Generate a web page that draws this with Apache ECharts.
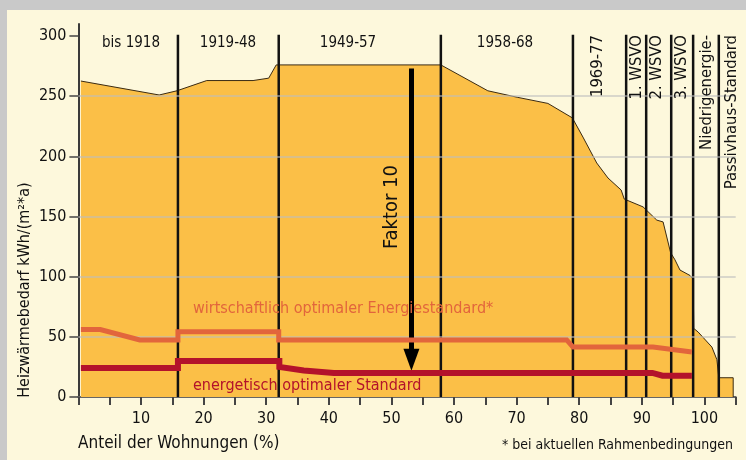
<!DOCTYPE html>
<html>
<head>
<meta charset="utf-8">
<script src="https://cdn.jsdelivr.net/npm/echarts@6/dist/echarts.min.js"></script>
<style>
  html, body { margin: 0; padding: 0; background: #c9c9c9; }
  #chart { width: 746px; height: 460px; }
</style>
</head>
<body>
<div id="chart"></div>
<script>
/* 字体 */
var FONT = "'Liberation Sans Narrow', 'DejaVu Sans Condensed', 'Noto Sans', sans-serif";

/* 数据 */
var yTicks = [0, 50, 100, 150, 200, 250, 300];
var gridValues = [50, 100, 150, 200, 250];
var xTicks = [0, 5, 10, 15, 20, 25, 30, 35, 40, 45, 50, 55, 60, 65, 70, 75, 80, 85, 90, 95, 100, 105];
var xLabels = [10, 20, 30, 40, 50, 60, 70, 80, 90, 100];

var periodNames = ['bis 1918', '1919-48', '1949-57', '1958-68'];
var standardNames = ['1969-77', '1. WSVO', '2. WSVO', '3. WSVO', 'Niedrigenergie-', 'Passivhaus-Standard'];
var dividers = [15.9, 32.0, 57.9, 79.0, 87.5, 90.7, 94.7, 98.2, 102.3];

// Heizwärmebedarf des Bestands (Fläche)
var demand = [
    [0.4, 262.6], [12.9, 251], [15.75, 254.5], [20.5, 263], [27.9, 263], [30.4, 265],
    [31.6, 276], [57.9, 276], [65.4, 254.5], [70.2, 249], [75.0, 244], [78.9, 232],
    [80.6, 216], [82.8, 194.5], [84.6, 182], [86.7, 172], [87.2, 164.5], [90.2, 158],
    [92.4, 147], [93.4, 145.5], [94.6, 120], [95.3, 114], [96.1, 105.5], [97.7, 101],
    [98.2, 98], [98.3, 57], [99.0, 54], [101.2, 41.5], [102.0, 31], [102.3, 16],
    [104.6, 16], [104.6, 0]
];
// wirtschaftlich optimaler Energiestandard
var econOptimum = [
    [0.4, 56], [3.5, 56], [9.8, 47.4], [15.9, 47.4], [15.9, 54.3], [32.0, 54.3],
    [32.0, 47.4], [78.0, 47.4], [79.0, 41.5], [91.8, 41.5], [98.0, 37.4]
];
// energetisch optimaler Standard
var energyOptimum = [
    [0.4, 24.1], [15.9, 24.1], [15.9, 30], [32.1, 30], [32.1, 25], [36, 22],
    [40.8, 20], [91.7, 20], [93.3, 17.7], [98.0, 17.7]
];
// Faktor 10 Pfeil
var factorArrow = [[53.2, 273], [53.2, 31]];

var chart = echarts.init(document.getElementById('chart'));

function txt(text, x, y, size, opt) {
    opt = opt || {};
    return {
        type: 'text',
        x: x, y: y,
        rotation: opt.rotation || 0,
        z: 100,
        style: {
            text: text,
            fill: opt.color || '#111',
            font: (opt.weight || 'normal') + ' ' + size + 'px ' + FONT,
            align: opt.align || 'center',
            verticalAlign: 'middle',
            textAlign: opt.align || 'center',
            textVerticalAlign: 'middle'
        }
    };
}

var series = [{
    name: 'Bestand',
    type: 'line',
    data: demand,
    symbol: 'none',
    z: 2,
    lineStyle: { color: '#3a2a12', width: 1 },
    areaStyle: { color: '#fbbf47', opacity: 1 }
}, {
    name: 'grid',
    type: 'line',
    data: [],
    z: 3,
    markLine: {
        silent: true,
        symbol: 'none',
        label: { show: false },
        lineStyle: { color: 'rgba(190,190,190,0.75)', width: 1.5, type: 'solid' },
        data: gridValues.map(function (v) { return { yAxis: v }; })
    }
}];

dividers.forEach(function (d) {
    series.push({
        type: 'line',
        data: [[d, 0], [d, 301]],
        symbol: 'none',
        z: 4,
        lineStyle: { color: '#111', width: 2.5 }
    });
});

series.push({
    name: 'wirtschaftlich',
    type: 'line',
    data: econOptimum,
    symbol: 'none',
    z: 5,
    lineStyle: { color: '#e2653c', width: 5, cap: 'butt', join: 'miter' }
}, {
    name: 'energetisch',
    type: 'line',
    data: energyOptimum,
    symbol: 'none',
    z: 5,
    lineStyle: { color: '#b3122b', width: 6, cap: 'butt', join: 'miter' }
}, {
    name: 'Faktor 10',
    type: 'line',
    data: [],
    z: 6,
    markLine: {
        silent: true,
        symbol: ['none', 'triangle'],
        symbolSize: [16, 22],
        label: { show: false },
        lineStyle: { color: '#000', width: 5, type: 'solid' },
        data: [[{ coord: factorArrow[0] }, { coord: factorArrow[1] }]]
    }
});

var graphic = [{
    type: 'rect',
    z: -100,
    shape: { x: 7, y: 10, width: 746, height: 460 },
    style: { fill: '#fdf8dc' }
}];

// Epochen oben
var periodPos = [[131, 43], [228, 43], [348, 43], [505, 43]];
periodNames.forEach(function (n, i) {
    graphic.push(txt(n, periodPos[i][0], periodPos[i][1], 15));
});
// senkrechte Beschriftungen
var standardX = [598, 637, 657, 682, 707, 732];
standardNames.forEach(function (n, i) {
    graphic.push(txt(n, standardX[i], 35, 16.5, { rotation: Math.PI / 2, align: 'right' }));
});

graphic.push(
    txt('Faktor 10', 392, 207, 20, { rotation: Math.PI / 2 }),
    txt('wirtschaftlich optimaler Energiestandard*', 193, 309, 16, { align: 'left', color: '#e2653c' }),
    txt('energetisch optimaler Standard', 193, 386, 16, { align: 'left', color: '#b3122b' }),
    txt('Heizwärmebedarf kWh/(m²*a)', 25, 290, 16, { rotation: Math.PI / 2 }),
    txt('Anteil der Wohnungen (%)', 78, 444, 17, { align: 'left' }),
    txt('* bei aktuellen Rahmenbedingungen', 733, 445, 14, { align: 'right' })
);

chart.setOption({
    animation: false,
    backgroundColor: '#c9c9c9',
    grid: { left: 78.4, right: 10.3, top: 24, bottom: 63, containLabel: false, outerBoundsMode: 'none' },
    xAxis: {
        type: 'value',
        min: 0,
        max: 105,
        interval: 5,
        axisLine: { show: true, onZero: false, lineStyle: { color: '#666', width: 2 } },
        axisTick: { show: true, length: 8, customValues: xTicks, lineStyle: { color: '#444', width: 2 } },
        axisLabel: { customValues: xLabels, color: '#111', fontSize: 16, fontFamily: FONT, margin: 14 },
        splitLine: { show: false }
    },
    yAxis: {
        type: 'value',
        min: 0,
        max: 310,
        interval: 50,
        axisLine: { show: true, lineStyle: { color: '#3a3a3a', width: 2 } },
        axisTick: { show: true, length: 9, customValues: yTicks, lineStyle: { color: '#444', width: 1.5 } },
        axisLabel: { customValues: yTicks, color: '#111', fontSize: 16, fontFamily: FONT, margin: 12 },
        splitLine: { show: false }
    },
    graphic: graphic,
    series: series
});
</script>
</body>
</html>
